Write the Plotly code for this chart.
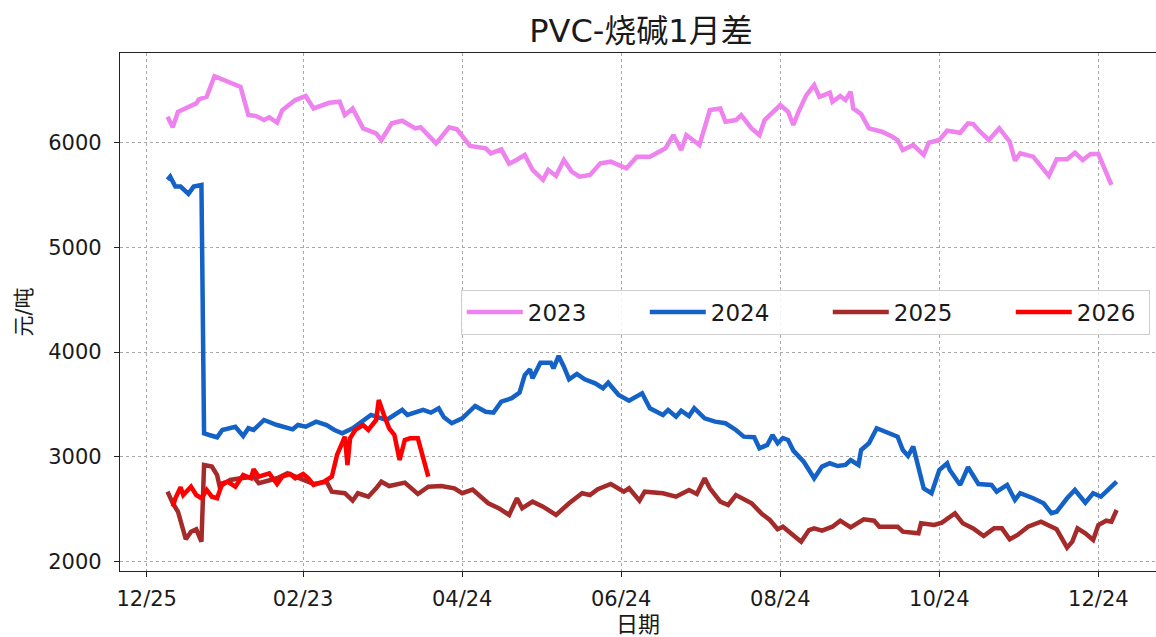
import plotly.graph_objects as go

# All seasons are drawn on one shared calendar year so they overlay by month/day.
DISPLAY_YEAR = 2024

tick_dates = ["2023-12-25", "2024-02-23", "2024-04-24", "2024-06-24",
              "2024-08-24", "2024-10-24", "2024-12-24"]
tick_labels = ["12/25", "02/23", "04/24", "06/24", "08/24", "10/24", "12/24"]

series_names = ["2023", "2024", "2025", "2026"]
series_colors = ["#EE82EE", "#1462C6", "#A52A2A", "#FF0000"]

dates_2023 = [
    "01-02", "01-04", "01-06", "01-09", "01-13", "01-14", "01-17", "01-20", "01-29", "01-30",
    "02-02", "02-05", "02-08", "02-10", "02-13", "02-15", "02-20", "02-24", "02-27", "03-04",
    "03-08", "03-10", "03-13", "03-17", "03-22", "03-24", "03-28", "04-01", "04-06", "04-08",
    "04-14", "04-19", "04-22", "04-27", "05-03", "05-05", "05-09", "05-12", "05-15", "05-18",
    "05-21", "05-25", "05-27", "05-30", "06-02", "06-05", "06-08", "06-12", "06-16", "06-20",
    "06-26", "06-30", "07-05", "07-11", "07-14", "07-17", "07-19", "07-24", "07-28", "08-01",
    "08-03", "08-07", "08-09", "08-13", "08-16", "08-18", "08-24", "08-27", "08-29", "08-31",
    "09-03", "09-06", "09-08", "09-12", "09-13", "09-16", "09-18", "09-20", "09-21", "09-24",
    "09-27", "10-02", "10-06", "10-08", "10-10", "10-14", "10-18", "10-20", "10-24", "10-27",
    "11-01", "11-04", "11-06", "11-08", "11-12", "11-16", "11-20", "11-22", "11-24", "11-27",
    "11-29", "12-05", "12-08", "12-12", "12-15", "12-18", "12-21", "12-24", "12-29",
]
values_2023 = [
    6246, 6145, 6293, 6325, 6373, 6411, 6436, 6633, 6547, 6531,
    6262, 6252, 6214, 6240, 6189, 6309, 6405, 6443, 6325, 6379,
    6389, 6262, 6325, 6135, 6088, 6024, 6183, 6208, 6135, 6145,
    5992, 6145, 6126, 5967, 5945, 5897, 5935, 5798, 5835, 5881,
    5738, 5643, 5738, 5681, 5833, 5722, 5674, 5690, 5802, 5817,
    5754, 5865, 5865, 5945, 6071, 5929, 6071, 5976, 6309, 6325,
    6198, 6214, 6262, 6135, 6071, 6214, 6357, 6293, 6167, 6293,
    6452, 6547, 6436, 6474, 6389, 6443, 6405, 6484, 6325, 6271,
    6135, 6103, 6055, 6024, 5929, 5976, 5881, 5998, 6024, 6112,
    6093, 6183, 6176, 6119, 6024, 6135, 6008, 5827, 5897, 5881,
    5865, 5681, 5840, 5840, 5903, 5833, 5890, 5890, 5595,
]

dates_2024 = [
    "01-02", "01-03", "01-05", "01-07", "01-10", "01-12", "01-15", "01-16", "01-18", "01-21",
    "01-23", "01-28", "01-31", "02-02", "02-04", "02-08", "02-13", "02-19", "02-21", "02-24",
    "02-28", "03-03", "03-06", "03-09", "03-13", "03-20", "03-26", "03-28", "04-01", "04-03",
    "04-09", "04-12", "04-15", "04-17", "04-20", "04-24", "04-29", "05-03", "05-06", "05-09",
    "05-13", "05-16", "05-18", "05-20", "05-21", "05-24", "05-28", "05-29", "05-31", "06-02",
    "06-04", "06-07", "06-10", "06-14", "06-17", "06-19", "06-23", "06-27", "07-02", "07-05",
    "07-10", "07-12", "07-15", "07-17", "07-20", "07-22", "07-26", "07-30", "08-03", "08-07",
    "08-10", "08-14", "08-16", "08-19", "08-21", "08-23", "08-25", "08-27", "08-29", "09-02",
    "09-06", "09-09", "09-12", "09-15", "09-18", "09-20", "09-23", "09-24", "09-27", "09-30",
    "10-08", "10-10", "10-12", "10-14", "10-15", "10-18", "10-21", "10-24", "10-27", "10-28",
    "11-01", "11-04", "11-08", "11-13", "11-15", "11-19", "11-22", "11-24", "11-29", "12-03",
    "12-06", "12-08", "12-12", "12-15", "12-19", "12-22", "12-25", "12-28", "12-31",
]
values_2024 = [
    5643, 5674, 5579, 5579, 5510, 5579, 5595, 3225, 3209, 3187,
    3257, 3288, 3199, 3273, 3257, 3352, 3304, 3263, 3304, 3288,
    3336, 3304, 3257, 3225, 3273, 3400, 3352, 3384, 3448, 3400,
    3448, 3422, 3464, 3378, 3321, 3368, 3486, 3431, 3422, 3527,
    3560, 3613, 3781, 3836, 3750, 3899, 3899, 3845, 3963, 3861,
    3740, 3791, 3740, 3702, 3655, 3708, 3591, 3536, 3607, 3464,
    3400, 3448, 3384, 3441, 3390, 3464, 3368, 3336, 3321, 3257,
    3193, 3187, 3082, 3114, 3209, 3130, 3180, 3161, 3060, 2954,
    2796, 2907, 2939, 2913, 2923, 2970, 2923, 3066, 3130, 3273,
    3193, 3066, 3009, 3098, 2987, 2700, 2653, 2875, 2939, 2875,
    2732, 2901, 2741, 2732, 2668, 2732, 2589, 2653, 2605, 2557,
    2462, 2477, 2605, 2684, 2563, 2653, 2620, 2691, 2763,
]

dates_2025 = [
    "01-02", "01-04", "01-06", "01-09", "01-11", "01-13", "01-15", "01-16", "01-19", "01-21",
    "01-22", "01-26", "01-30", "02-04", "02-06", "02-13", "02-17", "02-22", "02-27", "03-03",
    "03-05", "03-10", "03-13", "03-15", "03-19", "03-22", "03-24", "03-27", "04-02", "04-07",
    "04-11", "04-16", "04-21", "04-24", "04-28", "05-04", "05-08", "05-12", "05-15", "05-17",
    "05-21", "05-25", "05-30", "06-04", "06-09", "06-12", "06-15", "06-20", "06-25", "06-27",
    "07-01", "07-03", "07-10", "07-15", "07-20", "07-23", "07-26", "07-28", "08-01", "08-04",
    "08-07", "08-13", "08-17", "08-20", "08-23", "08-25", "08-28", "09-01", "09-04", "09-06",
    "09-09", "09-13", "09-16", "09-20", "09-25", "09-29", "10-01", "10-08", "10-10", "10-16",
    "10-17", "10-22", "10-25", "10-28", "10-30", "11-02", "11-06", "11-10", "11-14", "11-17",
    "11-20", "11-23", "11-27", "12-02", "12-05", "12-08", "12-12", "12-14", "12-16", "12-19",
    "12-22", "12-24", "12-27", "12-29", "12-31",
]
values_2025 = [
    2668, 2557, 2477, 2214, 2286, 2309, 2191, 2923, 2907, 2827,
    2716, 2780, 2796, 2811, 2748, 2796, 2843, 2796, 2741, 2763,
    2668, 2653, 2582, 2653, 2620, 2700, 2763, 2722, 2754, 2646,
    2716, 2722, 2700, 2653, 2688, 2557, 2510, 2446, 2605, 2510,
    2573, 2525, 2446, 2557, 2653, 2636, 2691, 2741, 2668, 2700,
    2582, 2668, 2653, 2620, 2684, 2646, 2796, 2700, 2573, 2541,
    2636, 2557, 2455, 2398, 2309, 2334, 2268, 2191, 2302, 2318,
    2296, 2334, 2391, 2328, 2405, 2391, 2334, 2334, 2286, 2271,
    2366, 2350, 2372, 2429, 2462, 2366, 2318, 2245, 2318, 2318,
    2214, 2255, 2334, 2382, 2350, 2309, 2134, 2191, 2318, 2271,
    2207, 2350, 2391, 2382, 2493,
]

dates_2026 = [
    "01-04", "01-05", "01-07", "01-08", "01-11", "01-13", "01-15", "01-17", "01-19", "01-21",
    "01-23", "01-25", "01-28", "01-31", "02-03", "02-04", "02-06", "02-10", "02-13", "02-15",
    "02-18", "02-20", "02-23", "02-25", "02-27", "03-02", "03-05", "03-07", "03-10", "03-11",
    "03-12", "03-14", "03-17", "03-19", "03-22", "03-23", "03-25", "03-27", "03-29", "03-31",
    "04-02", "04-04", "04-07", "04-11",
]
values_2026 = [
    2525, 2605, 2710, 2636, 2716, 2636, 2605, 2684, 2620, 2605,
    2748, 2763, 2716, 2827, 2796, 2882, 2811, 2843, 2741, 2811,
    2837, 2796, 2837, 2796, 2732, 2763, 2811, 3018, 3193, 2923,
    3177, 3257, 3304, 3257, 3352, 3543, 3400, 3273, 3209, 2970,
    3161, 3177, 3177, 2811,
]

series_dates = [dates_2023, dates_2024, dates_2025, dates_2026]
series_values = [values_2023, values_2024, values_2025, values_2026]


def on_display_year(month_days):
    return [f"{DISPLAY_YEAR}-{md}" for md in month_days]


fig = go.Figure()
for i, (name, color, md, vals) in enumerate(
        zip(series_names, series_colors, series_dates, series_values)):
    last = i == len(series_names) - 1
    fig.add_trace(go.Scatter(
        x=on_display_year(md), y=vals, name=name, mode="lines",
        line=dict(color=color, width=4.5),
        # wide columns between legend entries, a tight right edge after the last one
        legendwidth=67 if last else 112,
    ))

FONT = "DejaVu Sans, Noto Sans CJK SC, sans-serif"
grid_style = dict(showgrid=True, gridcolor="#a8a8a8", gridwidth=0.8, griddash="3px,3px")

fig.update_layout(
    width=1156, height=637,
    margin=dict(l=120, r=0, t=53, b=66),
    paper_bgcolor="white", plot_bgcolor="white",
    font=dict(family=FONT, size=21, color="#1a1a1a"),
    title=dict(text="PVC-烧碱1月差", x=641 / 1156, xanchor="center",
               y=1 - 31 / 637, yanchor="middle", font=dict(size=32, color="#1a1a1a")),
    showlegend=True,
    legend=dict(orientation="h", x=0.994, xanchor="right", y=0.5, yanchor="middle",
                bgcolor="rgba(255,255,255,0.85)", bordercolor="#cfcfcf", borderwidth=1,
                font=dict(size=23), itemwidth=56, traceorder="normal"),
    xaxis=dict(
        type="date", range=["2023-12-14 18:15", "2025-01-15 02:30"],
        tickmode="array", tickvals=tick_dates, ticktext=tick_labels,
        ticks="outside", ticklen=5, tickwidth=1, tickcolor="#222",
        showline=True, linecolor="#222", linewidth=1.3, mirror=True,
        ticklabelstandoff=4, zeroline=False,
        title=dict(text="日期", standoff=8, font=dict(size=22)),
        **grid_style,
    ),
    yaxis=dict(
        range=[1911, 6854], tickmode="array", tickvals=[2000, 3000, 4000, 5000, 6000],
        ticks="outside", ticklen=5, tickwidth=1, tickcolor="#222",
        showline=True, linecolor="#222", linewidth=1.3, mirror=False,
        ticklabelstandoff=8, zeroline=False,
        title=dict(text="元/吨", standoff=10, font=dict(size=21)),
        **grid_style,
    ),
)

fig.write_html("out.html")
